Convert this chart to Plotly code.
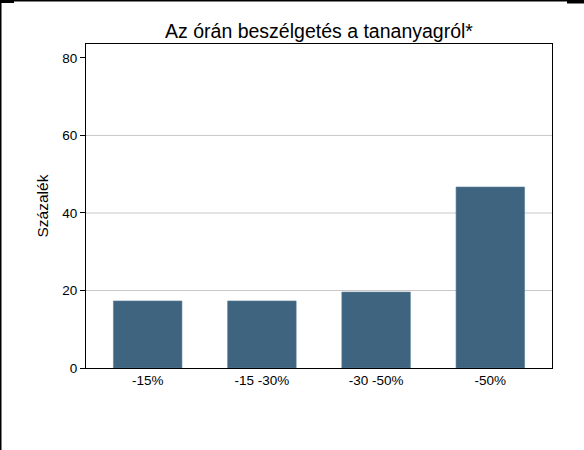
import plotly.graph_objects as go

categories = ["-15%", "-15 -30%", "-30 -50%", "-50%"]
values = [17.3, 17.3, 19.6, 46.7]
y_ticks = [0, 20, 40, 60, 80]
grid_levels = [20, 40, 60]

bar_color = "#3E6480"

L, R, T, B, W, H = 86, 32, 44, 82, 584, 450
PW, PH = W - L - R, H - T - B


def px_x(p):
    return (p - L) / PW


def px_y(p):
    return 1 - (p - T) / PH


fig = go.Figure()
fig.add_trace(go.Bar(
    x=categories, y=values, width=0.6,
    marker=dict(color=bar_color, line=dict(color="#5A7E96", width=0.6)),
))

shapes = []
for g in grid_levels:
    shapes.append(dict(type="line", xref="paper", yref="y", x0=0, x1=1, y0=g, y1=g,
                       line=dict(color="#C8C8C8", width=1), layer="below"))
# outer image border artifacts
shapes.append(dict(type="rect", xref="paper", yref="paper", x0=px_x(0), x1=px_x(W), y0=px_y(1.5), y1=px_y(0),
                   line=dict(width=0), fillcolor="black"))
shapes.append(dict(type="rect", xref="paper", yref="paper", x0=px_x(0), x1=px_x(14), y0=px_y(3), y1=px_y(0),
                   line=dict(width=0), fillcolor="black"))
shapes.append(dict(type="rect", xref="paper", yref="paper", x0=px_x(567), x1=px_x(W), y0=px_y(3.5), y1=px_y(0),
                   line=dict(width=0), fillcolor="black"))
shapes.append(dict(type="rect", xref="paper", yref="paper", x0=px_x(0), x1=px_x(1.5), y0=px_y(H), y1=px_y(0),
                   line=dict(width=0), fillcolor="black"))

fig.update_layout(
    width=W, height=H,
    margin=dict(l=L, r=R, t=T, b=B),
    paper_bgcolor="white", plot_bgcolor="white",
    font=dict(family="Liberation Sans, Arial, sans-serif", color="black", size=13.5),
    title=dict(text="Az órán beszélgetés a tananyagról*", x=0.5, xref="paper",
               y=1 - 31 / 450, yanchor="middle", font=dict(size=19.5, color="black")),
    showlegend=False,
    shapes=shapes,
    xaxis=dict(range=[-0.54, 3.54], showgrid=False, showline=True, linecolor="black",
               linewidth=1, mirror=True, ticks="", tickfont=dict(size=13.5), zeroline=False),
    yaxis=dict(range=[0, 83.6], tickvals=y_ticks, showgrid=False, showline=True,
               linecolor="black", linewidth=1, mirror=True, ticks="outside", ticklen=5,
               tickcolor="black", tickfont=dict(size=13.5), zeroline=False,
               title=dict(text="Százalék", font=dict(size=15.5), standoff=9)),
)

fig.write_html("out.html", config={"displayModeBar": False},
               post_script="document.body.style.margin='0';document.body.style.overflow='hidden';")
